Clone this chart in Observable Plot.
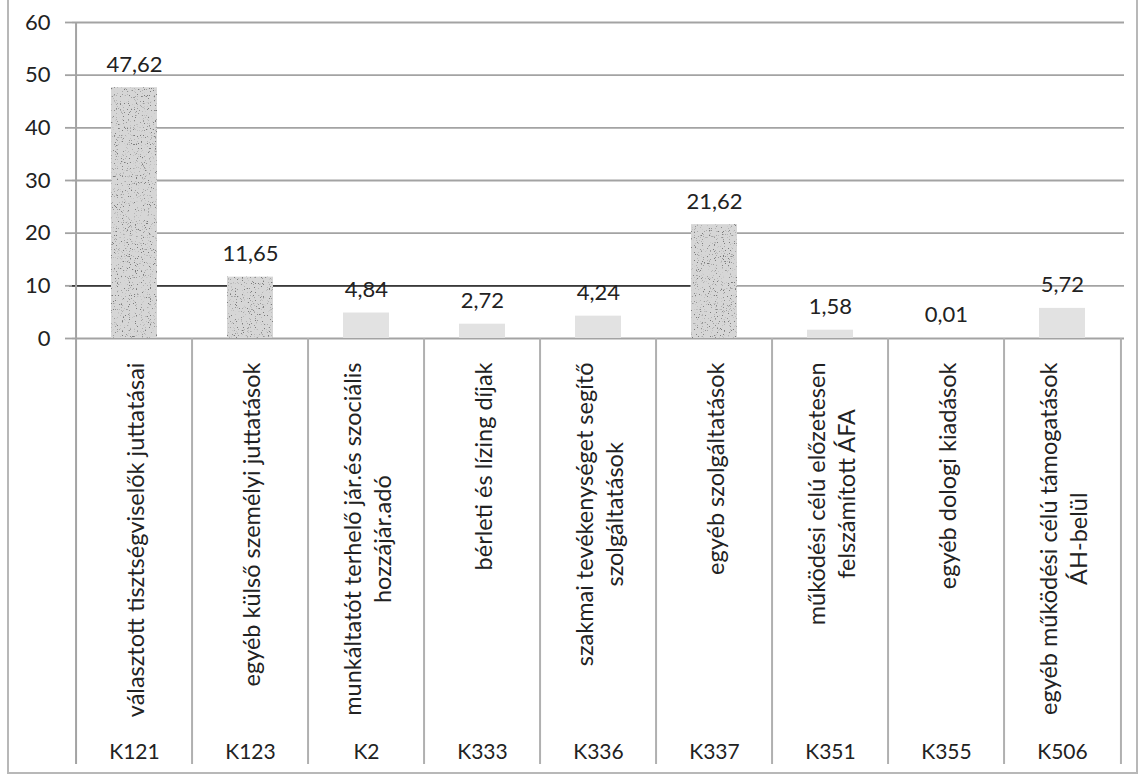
<!DOCTYPE html>
<html><head><meta charset="utf-8">
<script src="https://cdn.jsdelivr.net/npm/d3@7"></script>
<script src="https://cdn.jsdelivr.net/npm/@observablehq/plot@0.6"></script>
<style>
body{margin:0;background:#fff;}
#wrap{position:relative;width:1144px;height:778px;overflow:hidden;}
#border{position:absolute;left:7px;top:-4px;width:1131px;height:778px;border:2px solid #b8b8b8;border-top:none;box-sizing:border-box;pointer-events:none}
</style></head><body><div id="wrap"><div id="border"></div></div>
<script>
const codes = ["K121","K123","K2","K333","K336","K337","K351","K355","K506"];
const names = [
  "választott tisztségviselők juttatásai",
  "egyéb külső személyi juttatások",
  "munkáltatót terhelő jár.és szociális\nhozzájár.adó",
  "bérleti és lízing díjak",
  "szakmai tevékenységet segítő\nszolgáltatások",
  "egyéb szolgáltatások",
  "működési célú előzetesen\nfelszámított ÁFA",
  "egyéb dologi kiadások",
  "egyéb működési célú támogatások\nÁH-belül"
];
const values = [47.62, 11.65, 4.84, 2.72, 4.24, 21.62, 1.58, 0.01, 5.72];
const yTicks = [0, 10, 20, 30, 40, 50, 60];

const rows = codes.map((c, i) => ({code: c, name: names[i], value: values[i],
  label: values[i].toFixed(2).replace(".", ",")}));
const tall = rows.filter(r => r.value >= 10);
const small = rows.filter(r => r.value < 10);

// layout
const W = 1144, H = 778, mL = 72, mR = 20, mT = 22, mB = 14, zeroY = 338, labelTop = 362;
const step = (W - mL - mR) / codes.length;
const FONT = "Lato, 'Open Sans', sans-serif";
const catSize = 23.5;

const ctx = document.createElement("canvas").getContext("2d");
ctx.font = `${catSize}px Lato`;
const longest = s => Math.max(...s.split("\n").map(l => ctx.measureText(l).width));

const gridColor = "#a3a3a3";

const chart = Plot.plot({
  width: W, height: H,
  marginLeft: mL, marginRight: mR, marginTop: mT, marginBottom: mB,
  style: {fontFamily: FONT, color: "#222", background: "white"},
  x: {domain: codes, paddingInner: 0.6, paddingOuter: 0.3, axis: null},
  y: {domain: [0, 60], range: [zeroY, mT], axis: null},
  marks: [
    Plot.gridY(yTicks, {stroke: gridColor, strokeOpacity: 1, strokeWidth: 1.8}),
    Plot.ruleY([10], {x1: () => codes[0], x2: () => codes[5], stroke: "#3a3a3a", strokeWidth: 1.6,
      insetLeft: -(0.3 * step + 7), insetRight: 0.4 * step}),
    Plot.axisY(yTicks, {tickSize: 7, tickPadding: 15, stroke: gridColor, strokeWidth: 1.8,
      fontSize: 22, fill: "#222", tickFormat: d => d, label: null}),
    // left axis line spanning full height
    Plot.ruleX([codes[0]], {x: d => d, dx: -step / 2, stroke: gridColor, strokeWidth: 2}),
    // separators below the axis
    Plot.ruleX(rows.slice(1), {x: "code", dx: -step / 2, insetTop: zeroY - mT, stroke: "#b0b0b0", strokeWidth: 2}),
    Plot.ruleX([codes[codes.length - 1]], {x: d => d, dx: step / 2, insetTop: zeroY - mT, stroke: "#b0b0b0", strokeWidth: 2}),
    Plot.barY(tall, {x: "code", y: "value", fill: "#d6d6d6"}),
    Plot.barY(small, {x: "code", y: "value", fill: "#e2e2e2"}),
    Plot.text(rows, {x: "code", y: "value", text: "label", dy: -23, fontSize: 22, fill: "#222"}),
    ...rows.map(r => Plot.text([r], {x: "code", text: "name", rotate: -90, frameAnchor: "top",
      lineAnchor: "middle", dy: (labelTop - mT) + longest(r.name) / 2, fontSize: catSize,
      lineHeight: 1.25, fill: "#222"})),
    Plot.text(rows, {x: "code", text: "code", frameAnchor: "bottom", lineAnchor: "middle",
      dy: -12, fontSize: 21, fill: "#222"})
  ]
});

// scanned speckle texture on the tall bars (first bar mark)
const svgNS = "http://www.w3.org/2000/svg";
const defs = document.createElementNS(svgNS, "defs");
defs.innerHTML = `<filter id="speckle" x="0" y="0" width="1" height="1">
  <feTurbulence type="fractalNoise" baseFrequency="0.85" numOctaves="2" seed="7" result="noise"/>
  <feColorMatrix in="noise" type="matrix" values="0 0 0 0 0.2  0 0 0 0 0.2  0 0 0 0 0.2  9 0 0 0 -5.6" result="dots"/>
  <feComposite in="dots" in2="SourceGraphic" operator="in" result="d2"/>
  <feMerge><feMergeNode in="SourceGraphic"/><feMergeNode in="d2"/></feMerge>
</filter>`;
chart.prepend(defs);
const barGroups = chart.querySelectorAll("g[aria-label='bar']");
if (barGroups.length) barGroups[0].querySelectorAll("rect").forEach(r => r.setAttribute("filter", "url(#speckle)"));
document.getElementById("wrap").prepend(chart);
</script>
</body></html>
